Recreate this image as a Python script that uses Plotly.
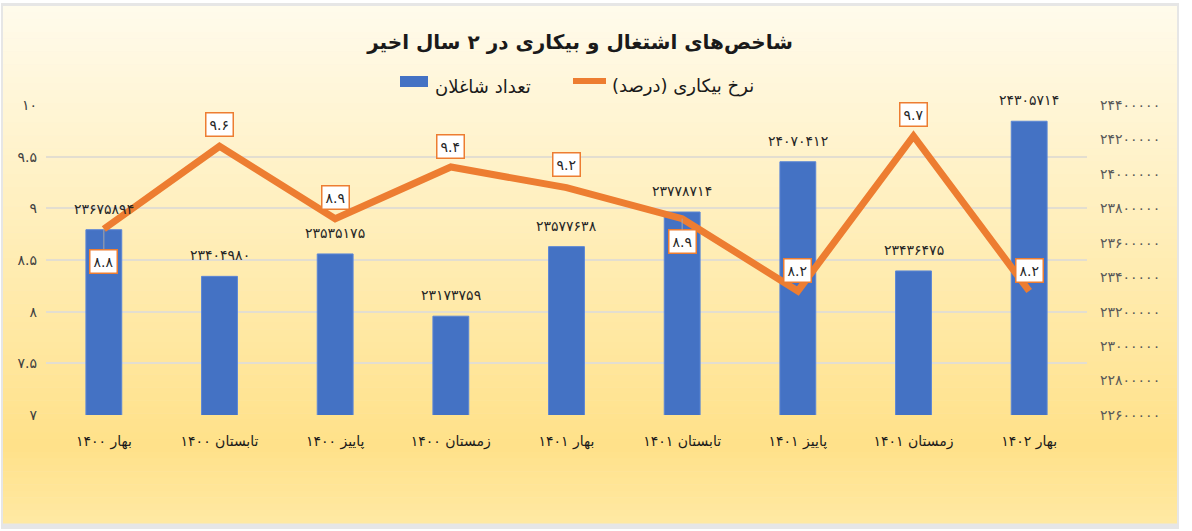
import plotly.graph_objects as go

categories = ["بهار ۱۴۰۰", "تابستان ۱۴۰۰", "پاییز ۱۴۰۰", "زمستان ۱۴۰۰", "بهار ۱۴۰۱",
              "تابستان ۱۴۰۱", "پاییز ۱۴۰۱", "زمستان ۱۴۰۱", "بهار ۱۴۰۲"]
employed = [23675894, 23404980, 23535175, 23173759, 23577638, 23778714, 24070412, 23436475, 24305714]
unemployment = [8.8, 9.6, 8.9, 9.4, 9.2, 8.9, 8.2, 9.7, 8.2]
left_ticks = [7, 7.5, 8, 8.5, 9, 9.5, 10]
right_ticks = [22600000, 22800000, 23000000, 23200000, 23400000, 23600000, 23800000, 24000000, 24200000, 24400000]
series_names = ["تعداد شاغلان", "نرخ بیکاری (درصد)"]
# label offsets (px): negative = above point, positive = below (with leader line)
label_offset = [32, -22, -21, -21, -23, 23, -21, -22, -21]

FA = str.maketrans("0123456789", "۰۱۲۳۴۵۶۷۸۹")
def fa(v):
    return str(v).translate(FA)

FONT = "DejaVu Sans"
W, H = 1192, 531
L, R, T, B = 46, 1087, 105, 415
def px_x(p): return (p - L) / (R - L)
def px_y(p): return (B - p) / (B - T)

BLUE, ORANGE = "#4472C4", "#ED7D31"

fig = go.Figure()
fig.add_trace(go.Bar(
    x=list(range(len(categories))), y=employed, name=series_names[0],
    marker=dict(color=BLUE, line=dict(color="#5B86D6", width=1)),
    width=0.31, yaxis="y", showlegend=False,
))
fig.add_trace(go.Scatter(
    x=list(range(len(categories))), y=unemployment, name=series_names[1],
    mode="lines", line=dict(color=ORANGE, width=7), yaxis="y2", showlegend=False,
))

# gradient background panel
shapes = []
shapes.append(dict(type="rect", xref="paper", yref="paper",
                   x0=px_x(1), x1=px_x(1179), y0=px_y(529), y1=px_y(3),
                   fillcolor="#E6E6E6", line=dict(width=0), layer="below"))
stops = [(6, (255, 251, 236)), (250, (255, 237, 181)), (445, (255, 225, 137)), (523, (255, 233, 163))]
n = 80
top, bot = 6, 523
for i in range(n):
    y0p = top + (bot - top) * i / n
    y1p = top + (bot - top) * (i + 1) / n
    ym = (y0p + y1p) / 2
    for k in range(len(stops) - 1):
        if stops[k][0] <= ym <= stops[k + 1][0]:
            t = (ym - stops[k][0]) / (stops[k + 1][0] - stops[k][0])
            c = tuple(round(stops[k][1][j] + t * (stops[k + 1][1][j] - stops[k][1][j])) for j in range(3))
            break
    shapes.append(dict(type="rect", xref="paper", yref="paper",
                       x0=px_x(3), x1=px_x(1177), y0=px_y(y1p + 0.5), y1=px_y(y0p),
                       fillcolor="rgb(%d,%d,%d)" % c, line=dict(width=0), layer="below"))

# custom legend
shapes.append(dict(type="rect", xref="paper", yref="paper",
                   x0=px_x(400), x1=px_x(428), y0=px_y(87), y1=px_y(76),
                   fillcolor=BLUE, line=dict(width=0)))
shapes.append(dict(type="line", xref="paper", yref="paper",
                   x0=px_x(573), x1=px_x(606), y0=px_y(81), y1=px_y(81),
                   line=dict(color=ORANGE, width=6)))

annotations = [
    dict(x=px_x(433), y=px_y(86), xref="paper", yref="paper", text=series_names[0],
         showarrow=False, xanchor="left", yanchor="middle",
         font=dict(family=FONT, size=18, color="#1a1a1a")),
    dict(x=px_x(610), y=px_y(86), xref="paper", yref="paper", text=series_names[1],
         showarrow=False, xanchor="left", yanchor="middle",
         font=dict(family=FONT, size=18, color="#1a1a1a")),
]
# bar value labels
for i, v in enumerate(employed):
    annotations.append(dict(x=i, y=v, xref="x", yref="y", text=fa(v), showarrow=False,
                            yanchor="middle", yshift=21,
                            font=dict(family=FONT, size=14, color="#262626")))
# unemployment labels
for i, v in enumerate(unemployment):
    off = label_offset[i]
    a = dict(x=i, y=v, xref="x", yref="y2", text=fa(str(v)),
             font=dict(family=FONT, size=14, color="#262626"),
             bgcolor="white", bordercolor=ORANGE, borderwidth=1.5, borderpad=3)
    if off > 0:
        a.update(showarrow=True, ax=0, ay=off, arrowhead=0, arrowcolor="#A6A6A6",
                 arrowwidth=1, standoff=0)
    else:
        a.update(showarrow=False, yshift=-off)
    annotations.append(a)

fig.update_layout(
    width=W, height=H,
    margin=dict(l=L, r=W - R, t=T, b=H - B),
    paper_bgcolor="white", plot_bgcolor="rgba(0,0,0,0)",
    showlegend=False,
    title=dict(text="<b>شاخص‌های اشتغال و بیکاری در ۲ سال اخیر</b>",
               x=px_x(580), xref="paper", y=1 - 42 / H, yref="container",
               xanchor="center", yanchor="middle",
               font=dict(family=FONT, size=20, color="#1a1a1a")),
    xaxis=dict(tickvals=list(range(len(categories))), ticktext=categories,
               range=[-0.5, len(categories) - 0.5], showgrid=False, zeroline=False,
               showline=False, ticks="", ticklabelstandoff=16,
               tickfont=dict(family=FONT, size=14, color="#1a1a1a")),
    yaxis=dict(side="right", range=[right_ticks[0], right_ticks[-1]],
               tickvals=right_ticks, ticktext=[fa(v) for v in right_ticks],
               showgrid=False, zeroline=False, showline=False, ticks="",
               ticklabelstandoff=12,
               tickfont=dict(family=FONT, size=14, color="#595959")),
    yaxis2=dict(side="left", overlaying="y", range=[left_ticks[0], left_ticks[-1]],
                tickvals=left_ticks, ticktext=[fa(v) for v in left_ticks],
                showgrid=True, gridcolor="#E3DED0", gridwidth=1.5, zeroline=False,
                showline=False, ticks="", ticklabelstandoff=8,
                tickfont=dict(family=FONT, size=14, color="#404040")),
    shapes=shapes, annotations=annotations, bargap=0.69,
)
fig.write_html("out.html")
